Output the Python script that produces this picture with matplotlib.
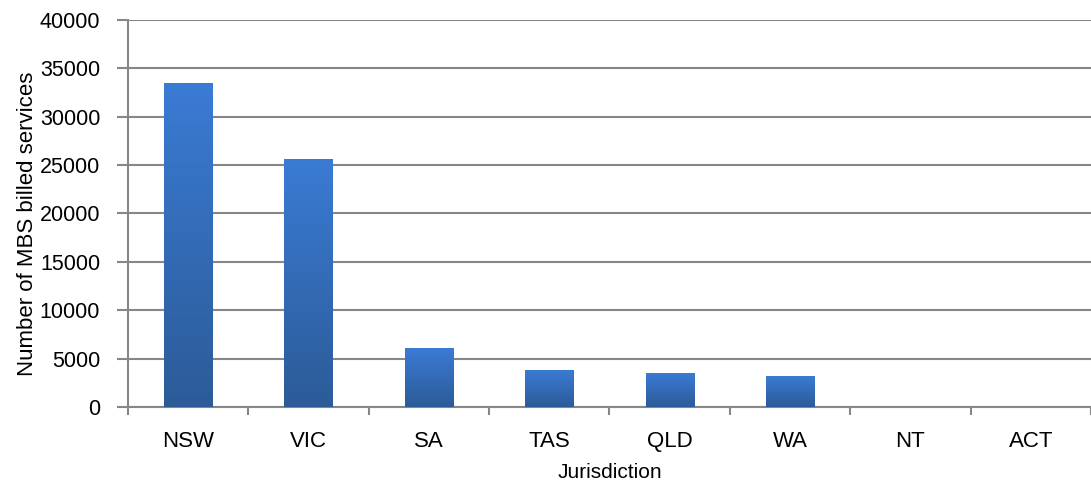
import matplotlib.pyplot as plt
import numpy as np
from matplotlib.colors import LinearSegmentedColormap

# Number of MBS billed services by jurisdiction
jurisdictions = ["NSW", "VIC", "SA", "TAS", "QLD", "WA", "NT", "ACT"]
services = [33450, 25600, 6050, 3800, 3480, 3200, 0, 0]

plt.rcParams.update({
    "font.family": ["Liberation Sans", "DejaVu Sans"],
    "font.size": 15,
})

grid_col = "#878787"

fig = plt.figure(figsize=(10.91, 4.91), dpi=100)
ax = fig.add_axes([0.1173, 0.1711, 0.8827, 0.7882])

x = np.arange(len(jurisdictions))
bars = ax.bar(x, services, width=0.4, color="none", edgecolor="none", zorder=3)

# vertical gradient fill, lighter at the top, darker at the bottom
grad_cmap = LinearSegmentedColormap.from_list("bar_grad", ["#2c5b98", "#3a7bd4"])
grad = np.linspace(0, 1, 256).reshape(-1, 1)
for b in bars:
    h = b.get_height()
    if h <= 0:
        continue
    x0 = b.get_x()
    ax.imshow(grad, cmap=grad_cmap, origin="lower", aspect="auto",
              extent=(x0, x0 + b.get_width(), 0, h), zorder=3)

ax.set_xlim(-0.5, len(jurisdictions) - 0.5)
ax.set_ylim(0, 40000)
ax.set_yticks(np.arange(0, 40001, 5000))
ax.set_xticks(x)
ax.set_xticklabels(jurisdictions)
ax.set_xticks(np.arange(-0.5, len(jurisdictions), 1.0), minor=True)

ax.tick_params(axis="x", which="major", length=0, pad=17, labelsize=16)
ax.tick_params(axis="x", which="minor", length=6, width=1.5, color=grid_col)
ax.tick_params(axis="y", length=8, width=1.5, color=grid_col, pad=12, labelsize=15.5)

ax.grid(True, axis="y", color=grid_col, linewidth=1.5, zorder=1)
ax.set_axisbelow(True)

for s in ["top", "right"]:
    ax.spines[s].set_visible(False)
for s in ["left", "bottom"]:
    ax.spines[s].set_color(grid_col)
    ax.spines[s].set_linewidth(1.5)

ax.set_xlabel("Jurisdiction", fontsize=15, labelpad=8)
ax.set_ylabel("Number of MBS billed services", fontsize=16)
ax.yaxis.set_label_coords(-0.093, 0.473)

fig.savefig("out.png", dpi=100)
